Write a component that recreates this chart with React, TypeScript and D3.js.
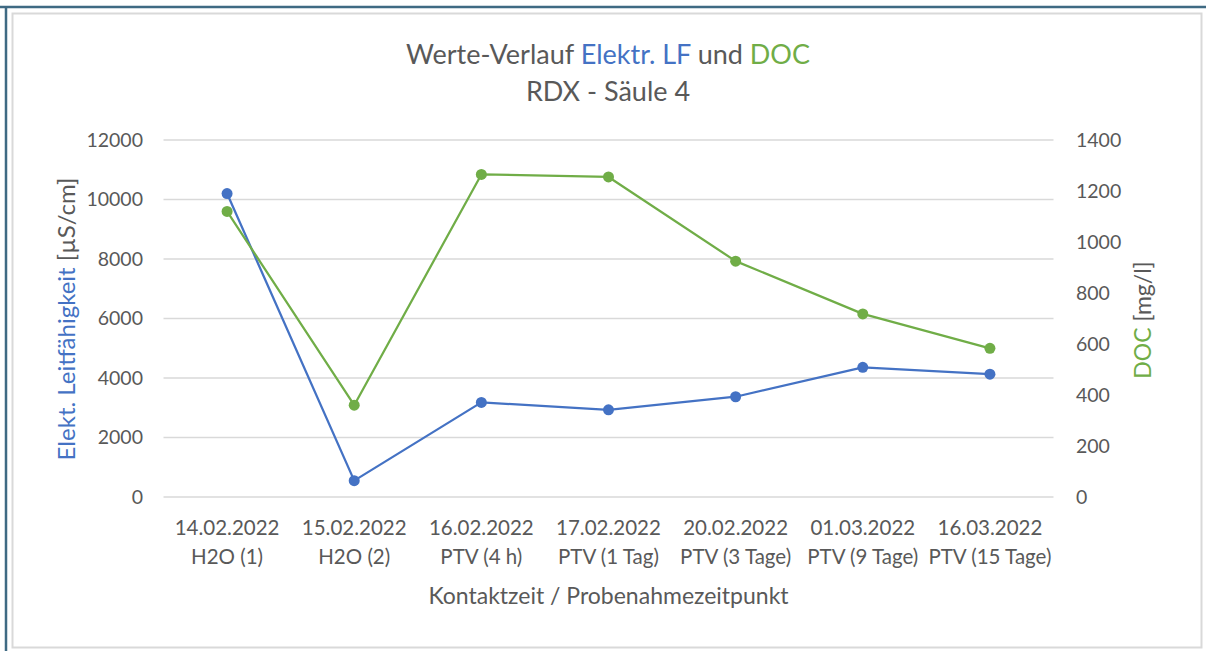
import { useEffect, useRef } from 'react';
import * as d3 from 'd3';

const categories = [
  ['14.02.2022', 'H2O (1)'],
  ['15.02.2022', 'H2O (2)'],
  ['16.02.2022', 'PTV (4 h)'],
  ['17.02.2022', 'PTV (1 Tag)'],
  ['20.02.2022', 'PTV (3 Tage)'],
  ['01.03.2022', 'PTV (9 Tage)'],
  ['16.03.2022', 'PTV (15 Tage)'],
];
const lfValues = [10200, 550, 3180, 2930, 3370, 4360, 4130];
const docValues = [1120, 360, 1265, 1255, 925, 718, 583];
const leftTicks = [0, 2000, 4000, 6000, 8000, 10000, 12000];
const rightTicks = [0, 200, 400, 600, 800, 1000, 1200, 1400];

const BLUE = '#4472C4';
const GREEN = '#70AD47';
const TEXT = '#595959';
const FONT = 'Lato, "Open Sans", sans-serif';

const App = () => {
  const svgRef = useRef<SVGSVGElement>(null);

  useEffect(() => {
    if (!svgRef.current) return;
    const W = 1206;
    const H = 651;
    const plot = { left: 163.5, right: 1053.5, top: 140, bottom: 497 };

    const svg = d3.select(svgRef.current);
    svg.selectAll('*').remove();

    // frame
    svg.append('rect').attr('width', W).attr('height', H).attr('fill', '#fff');
    svg.append('line').attr('x1', 0).attr('x2', W).attr('y1', 7).attr('y2', 7)
      .attr('stroke', '#3f6a83').attr('stroke-width', 2.5);
    svg.append('line').attr('x1', 6).attr('x2', 6).attr('y1', 6).attr('y2', H)
      .attr('stroke', '#3f6a83').attr('stroke-width', 2.5);
    svg.append('rect').attr('x', 12.5).attr('y', 13.5).attr('width', 1189).attr('height', 634)
      .attr('fill', '#fff').attr('stroke', '#d9d9d9').attr('stroke-width', 2);

    const x = d3.scalePoint<number>()
      .domain(d3.range(categories.length))
      .range([plot.left, plot.right])
      .padding(0.5);

    const yL = d3.scaleLinear().domain([0, 12000]).range([plot.bottom, plot.top]);
    const yR = d3.scaleLinear().domain([0, 1400]).range([plot.bottom, plot.top]);

    // grid
    svg.append('g')
      .selectAll('line')
      .data(leftTicks)
      .enter()
      .append('line')
      .attr('x1', plot.left)
      .attr('x2', plot.right)
      .attr('y1', d => yL(d))
      .attr('y2', d => yL(d))
      .attr('stroke', '#d9d9d9')
      .attr('stroke-width', 1.3);

    // left ticks
    svg.append('g')
      .selectAll('text')
      .data(leftTicks)
      .enter()
      .append('text')
      .attr('x', 143)
      .attr('y', d => yL(d))
      .attr('dy', '0.35em')
      .attr('text-anchor', 'end')
      .style('fill', TEXT)
      .style('font-family', FONT)
      .style('font-size', '19.5px')
      .text(d => d);

    // right ticks
    svg.append('g')
      .selectAll('text')
      .data(rightTicks)
      .enter()
      .append('text')
      .attr('x', 1076)
      .attr('y', d => yR(d))
      .attr('dy', '0.35em')
      .attr('text-anchor', 'start')
      .style('fill', TEXT)
      .style('font-family', FONT)
      .style('font-size', '19.5px')
      .text(d => d);

    // category labels
    const cat = svg.append('g')
      .selectAll('text')
      .data(categories)
      .enter()
      .append('text')
      .attr('text-anchor', 'middle')
      .style('fill', TEXT)
      .style('font-family', FONT)
      .style('font-size', '20.5px');
    cat.append('tspan').attr('x', (_, i) => x(i)!).attr('y', 535).text(d => d[0]);
    cat.append('tspan').attr('x', (_, i) => x(i)!).attr('y', 564).text(d => d[1]);

    // axis titles
    svg.append('text')
      .attr('x', (plot.left + plot.right) / 2)
      .attr('y', 604)
      .attr('text-anchor', 'middle')
      .style('fill', TEXT)
      .style('font-family', FONT)
      .style('font-size', '23px')
      .text('Kontaktzeit / Probenahmezeitpunkt');

    const lt = svg.append('text')
      .attr('transform', 'translate(75,319) rotate(-90)')
      .attr('text-anchor', 'middle')
      .style('font-family', FONT)
      .style('font-size', '24px');
    lt.append('tspan').style('fill', BLUE).text('Elekt. Leitfähigkeit ');
    lt.append('tspan').style('fill', TEXT).text('[µS/cm]');

    const rt = svg.append('text')
      .attr('transform', 'translate(1151,320) rotate(-90)')
      .attr('text-anchor', 'middle')
      .style('font-family', FONT)
      .style('font-size', '23px');
    rt.append('tspan').style('fill', GREEN).text('DOC ');
    rt.append('tspan').style('fill', TEXT).text('[mg/l]');

    // title
    const t1 = svg.append('text')
      .attr('x', 608)
      .attr('y', 64)
      .attr('text-anchor', 'middle')
      .style('font-family', FONT)
      .style('font-size', '27px');
    t1.append('tspan').style('fill', TEXT).text('Werte-Verlauf ');
    t1.append('tspan').style('fill', BLUE).text('Elektr. LF');
    t1.append('tspan').style('fill', TEXT).text(' und ');
    t1.append('tspan').style('fill', GREEN).text('DOC');
    svg.append('text')
      .attr('x', 608)
      .attr('y', 101)
      .attr('text-anchor', 'middle')
      .style('fill', TEXT)
      .style('font-family', FONT)
      .style('font-size', '27px')
      .text('RDX - Säule 4');

    const drawSeries = (values: number[], y: d3.ScaleLinear<number, number>, color: string) => {
      const line = d3.line<number>()
        .x((_, i) => x(i)!)
        .y(d => y(d));
      svg.append('path')
        .datum(values)
        .attr('fill', 'none')
        .attr('stroke', color)
        .attr('stroke-width', 2.25)
        .attr('stroke-linejoin', 'round')
        .attr('d', line);
      svg.append('g')
        .selectAll('circle')
        .data(values)
        .enter()
        .append('circle')
        .attr('cx', (_, i) => x(i)!)
        .attr('cy', d => y(d))
        .attr('r', 5.5)
        .attr('fill', color);
    };

    drawSeries(lfValues, yL, BLUE);
    drawSeries(docValues, yR, GREEN);
  }, []);

  return (
    <svg
      ref={svgRef}
      width={1206}
      height={651}
      style={{ position: 'absolute', left: 0, top: 0, display: 'block' }}
    />
  );
};

export default App;
